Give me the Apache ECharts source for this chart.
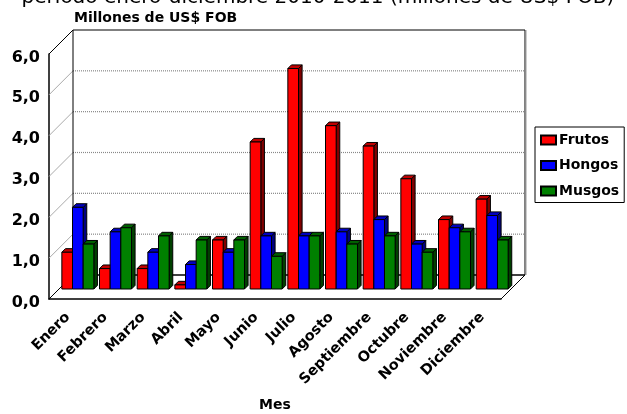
<!DOCTYPE html>
<html lang="es">
<head>
    <meta charset="UTF-8">
    <title>Exportaciones</title>
    <script src="https://cdn.jsdelivr.net/npm/echarts@6/dist/echarts.min.js"></script>
</head>
<style>
    html,body{margin:0;padding:0;background:#fff;overflow:hidden;}
    #main{width:627px;height:414px;}
</style>
<body>
<div id="main"></div>
<script>
    var meses = ['Enero','Febrero','Marzo','Abril','Mayo','Junio','Julio','Agosto','Septiembre','Octubre','Noviembre','Diciembre'];
    var frutos = [0.9,0.5,0.5,0.1,1.2,3.6,5.4,4.0,3.5,2.7,1.7,2.2];
    var hongos = [2.0,1.4,0.9,0.6,0.9,1.3,1.3,1.4,1.7,1.1,1.5,1.8];
    var musgos = [1.1,1.5,1.3,1.2,1.2,0.8,1.3,1.1,1.3,0.9,1.4,1.2];
    var yTicks = [0,1,2,3,4,5,6];

    var fontName = 'DejaVu Sans';
    var DEPTH = 24;      // profundidad de la caja 3D
    var BAR_OFF = 10;    // barras desplazadas hacia el fondo
    var BAR_DEPTH = 3.6;
    var BAR_W = 0.283;   // ancho de barra respecto a la categoria

    var myChart = echarts.init(document.getElementById('main'));

    function shade(color, k){
        var c = echarts.color.parse(color);
        return 'rgb(' + Math.round(c[0]*k) + ',' + Math.round(c[1]*k) + ',' + Math.round(c[2]*k) + ')';
    }

    // paredes y lineas de division
    function renderWall(params, api){
        var v = api.value(0);
        var a = api.coord([0, v]);
        var band = api.size([1, 0])[0];
        var x0 = a[0] - band / 2;
        var x1 = x0 + band * meses.length;
        var y = a[1];
        var kids = [];
        if(v === 6){
            var b = api.coord([0, 0]);
            var bx1 = x1 + DEPTH, by = b[1] - DEPTH, ty = y - DEPTH;
            kids.push({type:'polyline', shape:{points:[[x0+DEPTH,by],[x0+DEPTH,ty],[bx1,ty],[bx1,by],[x1,b[1]]]},
                style:{fill:null, stroke:'#000', lineWidth:1}});
            kids.push({type:'line', shape:{x1:bx1+1,y1:ty,x2:bx1+1,y2:by}, style:{stroke:'#999', lineWidth:1}});
            kids.push({type:'line', shape:{x1:x0,y1:y,x2:x0+DEPTH,y2:ty}, style:{stroke:'#000', lineWidth:1}});
        } else if(v === 0){
            kids.push({type:'line', shape:{x1:x0,y1:y,x2:x0+DEPTH,y2:y-DEPTH}, style:{stroke:'#000', lineWidth:1}});
            kids.push({type:'line', shape:{x1:x0+DEPTH,y1:y-DEPTH,x2:x1+DEPTH,y2:y-DEPTH}, style:{stroke:'#000', lineWidth:1.5}});
        } else {
            kids.push({type:'line', shape:{x1:x0,y1:y,x2:x0+DEPTH,y2:y-DEPTH}, style:{stroke:'#aaa', lineWidth:1}});
            kids.push({type:'line', shape:{x1:x0+DEPTH,y1:y-DEPTH,x2:x1+DEPTH,y2:y-DEPTH}, style:{stroke:'#888', lineWidth:1.2, lineDash:[1,1]}});
        }
        return {type:'group', children:kids};
    }

    function renderBar(idx, color){
        return function(params, api){
            var top = api.coord([api.value(0), api.value(1)]);
            var bottom = api.coord([api.value(0), 0]);
            var band = api.size([1, 0])[0];
            var w = band * BAR_W;
            var x = top[0] + BAR_OFF - w * 1.5 + w * idx;
            var yt = top[1] - BAR_OFF;
            var yb = bottom[1] - BAR_OFF;
            var d = BAR_DEPTH;
            var line = {stroke:'#000', lineWidth:1, lineJoin:'miter'};
            return {type:'group', children:[
                {type:'polygon', shape:{points:[[x+w,yt],[x+w+d,yt-d],[x+w+d,yb-d],[x+w,yb]]},
                    style:Object.assign({fill:shade(color,0.5)}, line)},
                {type:'polygon', shape:{points:[[x,yt],[x+d,yt-d],[x+w+d,yt-d],[x+w,yt]]},
                    style:Object.assign({fill:shade(color,0.75)}, line)},
                {type:'rect', shape:{x:x,y:yt,width:w,height:yb-yt},
                    style:Object.assign({fill:color}, line)}
            ]};
        };
    }

    function barSeries(name, values, idx, color){
        return {
            name: name,
            type: 'custom',
            coordinateSystem: 'cartesian2d',
            renderItem: renderBar(idx, color),
            itemStyle: {color: color, borderColor:'#000', borderWidth:1},
            encode: {x:0, y:1},
            z: 5,
            data: values.map(function(v, i){ return [i, v]; })
        };
    }

    var option = {
        animation: false,
        backgroundColor: '#fff',
        textStyle: {fontFamily: fontName},
        title: {
            text: 'período enero-diciembre 2010-2011 (millones de US$ FOB)',
            left: 313, top: -17, textAlign: 'center',
            textStyle: {fontFamily: fontName, fontSize: 20, fontWeight: 'normal', color:'#000'}
        },
        grid: {left: 49, top: 54, width: 452, height: 245, outerBoundsMode: 'none'},
        legend: {
            orient: 'vertical',
            left: 535, top: 127,
            data: [
                {name:'Frutos', icon:'rect'},
                {name:'Hongos', icon:'rect'},
                {name:'Musgos', icon:'rect'}
            ],
            itemWidth: 15, itemHeight: 9, itemGap: 11.5,
            padding: [6,5,4.5,5],
            borderColor: '#000', borderWidth: 1,
            textStyle: {fontFamily: fontName, fontSize: 14, fontWeight: 'bold', color:'#000', padding:[0,0,0,-2]}
        },
        xAxis: {
            type: 'category',
            data: meses,
            name: 'Mes',
            nameLocation: 'middle',
            nameGap: 99,
            nameTextStyle: {fontFamily: fontName, fontSize: 14, fontWeight: 'bold', color:'#000'},
            axisTick: {show:false},
            axisLine: {lineStyle:{color:'#000', width:1.5}},
            axisLabel: {interval:0, rotate:45, margin:16, color:'#000', fontFamily:fontName, fontSize:14.5, fontWeight:'bold'}
        },
        yAxis: {
            type: 'value',
            min: 0, max: 6, interval: 1,
            name: 'Millones de US$ FOB',
            nameLocation: 'end',
            nameGap: 29,
            nameTextStyle: {fontFamily: fontName, fontSize: 14, fontWeight: 'bold', color:'#000', align:'left', padding:[0,0,0,25]},
            splitLine: {show:false},
            axisTick: {show:false},
            axisLine: {show:true, lineStyle:{color:'#000', width:1.5}},
            axisLabel: {margin:9, color:'#000',
                rich: {t:{fontFamily:fontName, fontSize:16, fontWeight:'bold', color:'#000', padding:[7,0,0,0]}},
                formatter:function(v){ return '{t|' + v.toFixed(1).replace('.', ',') + '}'; }}
        },
        series: [
            {type:'custom', coordinateSystem:'cartesian2d', renderItem:renderWall, silent:true, z:1,
                encode:{y:0}, data: yTicks.map(function(t){ return [t]; })},
            barSeries('Frutos', frutos, 0, '#ff0000'),
            barSeries('Hongos', hongos, 1, '#0000ff'),
            barSeries('Musgos', musgos, 2, '#008000')
        ]
    };
    myChart.setOption(option);
</script>
</body>
</html>
